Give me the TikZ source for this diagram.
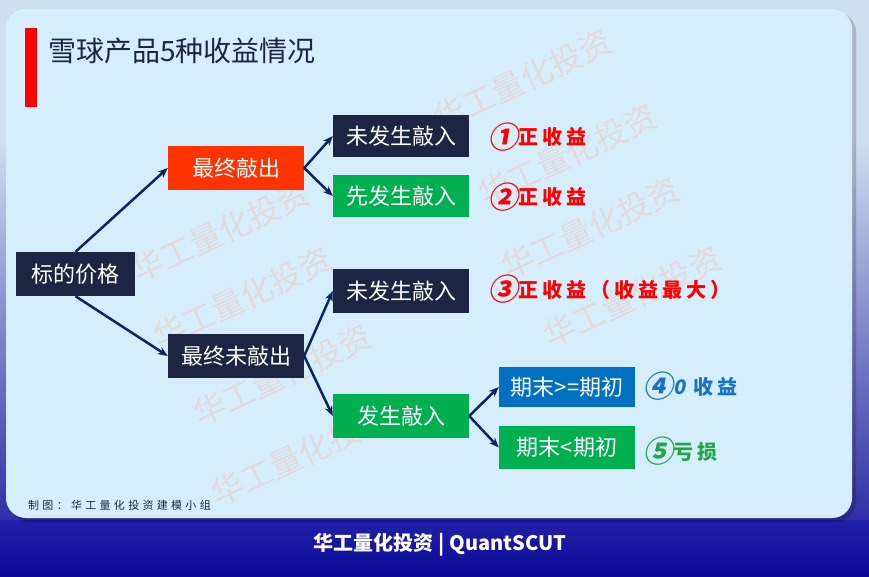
\documentclass[tikz,border=0pt]{standalone}
\usepackage{fontspec}
\usepackage{xcolor}
\setmainfont{Noto Sans CJK SC}
\newfontfamily\lblfont{Noto Sans CJK SC}[LetterSpace=20]
\newfontfamily\numfont{Noto Sans CJK SC}[FakeSlant=0.18]
\newfontfamily\creditfont{Noto Sans CJK SC}[LetterSpace=30]
\usetikzlibrary{arrows.meta}

\definecolor{navy}{RGB}{28,38,66}
\definecolor{koRed}{RGB}{255,51,0}
\definecolor{kiGreen}{RGB}{0,176,80}
\definecolor{endBlue}{RGB}{0,112,192}
\definecolor{arrowBlue}{RGB}{12,36,98}
\definecolor{panelBlue}{RGB}{214,238,252}
\definecolor{wmGray}{RGB}{226,220,222}
\definecolor{deepBlue}{RGB}{10,10,150}
\definecolor{footTop}{RGB}{32,32,168}
\definecolor{topGray}{RGB}{205,224,238}
\definecolor{labBlue}{RGB}{25,115,195}
\definecolor{labGreen}{RGB}{35,165,75}

\newcommand{\circnum}[1]{\raisebox{-3.5pt}{\numfont\fontsize{30}{30}\selectfont #1}}

\tikzset{
  box/.style={fill=#1, text=white, font=\fontsize{22}{24}\selectfont,
    minimum width=136pt, minimum height=44pt, inner sep=0pt},
  arr/.style={draw=arrowBlue, line width=2.5pt, -{Stealth[length=10pt,width=8pt]}},
  lab/.style={anchor=base west, text=#1, font=\lblfont\bfseries\fontsize{20}{22}\selectfont, inner sep=0pt},
  wm/.style={text=wmGray, font=\fontsize{32}{34}\selectfont, rotate=25}
}

\begin{document}
\begin{tikzpicture}[x=1pt, y=-1pt]
    \useasboundingbox (0,0) rectangle (869,577);
    % background
    \fill[topGray] (0,0) rectangle (869,577);
    \shade[top color=topGray, bottom color=deepBlue!85!white] (0,140) rectangle (869,521);
    \shade[top color=footTop, bottom color=deepBlue] (0,520) rectangle (869,577);
    % panel
    \fill[black, opacity=0.18, rounded corners=20pt] (9,12) rectangle (856,522);
    \fill[panelBlue, rounded corners=20pt] (6,9) rectangle (852,518);
    \begin{scope}
      \clip[rounded corners=20pt] (6,9) rectangle (852,518);
      \node[wm] (wa) at (522,80) {华工量化投资};
      \node[wm] (wb) at (567,155) {华工量化投资};
      \node[wm] (wc) at (590,228) {华工量化投资};
      \node[wm] (wd) at (632,297) {华工量化投资};
      \node[wm] (we) at (220,232) {华工量化投资};
      \node[wm] (wf) at (242,298) {华工量化投资};
      \node[wm] (wg) at (282,375) {华工量化投资};
      \node[wm] (wh) at (300,455) {华工量化投资};
    \end{scope}
    % title
    \fill[red] (25,28) rectangle (37,107);
    \node[anchor=west, text=navy, font=\fontsize{28}{30}\selectfont, inner sep=0pt] (title) at (48,51) {雪球产品5种收益情况};

    % tree
    \node[box=navy, minimum width=119pt] (price) at (75.5,274) {标的价格};
    \node[box=koRed] (ko) at (236,168) {最终敲出};
    \node[box=navy] (nko) at (236,356) {最终未敲出};
    \node[box=navy, minimum height=42pt] (nkia) at (401,136) {未发生敲入};
    \node[box=kiGreen, minimum height=42pt] (fki) at (401,196) {先发生敲入};
    \node[box=navy] (nkib) at (401,291) {未发生敲入};
    \node[box=kiGreen] (ki) at (401,416) {发生敲入};
    \node[box=endBlue, minimum height=40pt] (up) at (567,387) {期末>=期初};
    \node[box=kiGreen, minimum height=43pt] (down) at (567,447.5) {期末<期初};

    \draw[arr] (price.north) -- (ko.west);
    \draw[arr] (price.south) -- (nko.west);
    \draw[arr] (ko.east) -- (nkia.west);
    \draw[arr] (ko.east) -- (fki.west);
    \draw[arr] (nko.east) -- (nkib.west);
    \draw[arr] (nko.east) -- (ki.west);
    \draw[arr] (ki.east) -- (up.west);
    \draw[arr] (ki.east) -- (down.west);

    % results
    \node[lab=red] (laba) at (488,145) {\circnum{①}正收益};
    \node[lab=red] (labb) at (488,205) {\circnum{②}正收益};
    \node[lab=red] (labc) at (488,297) {\circnum{③}正收益（收益最大）};
    \node[lab=labBlue] (labd) at (643,394) {\circnum{④}{\numfont 0} 收益};
    \node[lab=labGreen] (labe) at (643,459) {\circnum{⑤}亏损};

    \node[anchor=west, text=navy, font=\creditfont\fontsize{11}{12}\selectfont, inner sep=0pt] (credit) at (28,505) {制图：华工量化投资建模小组};
    \node[text=white, font=\bfseries\fontsize{20}{22}\selectfont] (foot) at (440,545) {华工量化投资 | QuantSCUT};
\end{tikzpicture}
\end{document}
